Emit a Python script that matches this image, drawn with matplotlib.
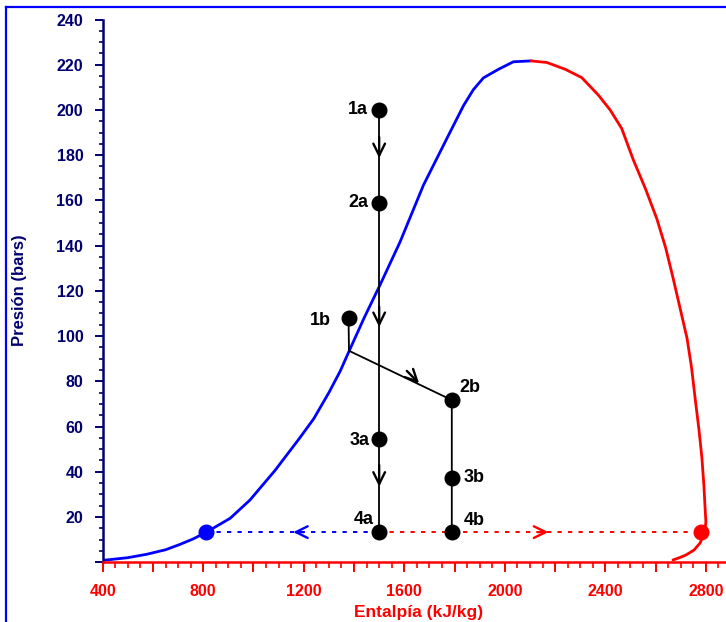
import matplotlib
matplotlib.use("Agg")
import matplotlib.pyplot as plt
from matplotlib.lines import Line2D
from matplotlib.ticker import MultipleLocator, FuncFormatter

plt.rcParams['font.family'] = ['Liberation Sans', 'DejaVu Sans']
plt.rcParams['font.weight'] = 'bold'

# curva de liquido saturado (azul) y vapor saturado (rojo)
h_liq = [400, 500, 575, 650, 708, 760, 811, 907, 986, 1085, 1183, 1240, 1300, 1345, 1381, 1440,
         1503, 1583, 1676, 1769, 1836, 1875, 1915, 1975, 2034, 2104]
p_liq = [0.8, 2.0, 3.5, 5.5, 7.9, 10.3, 13.2, 19.4, 27.5, 40.5, 54.8, 63.5, 75.0, 84.5, 93.5, 108.0,
         122.5, 141.6, 166.7, 187.3, 202.0, 209.0, 214.2, 218.0, 221.3, 221.7]
h_vap = [2104, 2167, 2240, 2306, 2372, 2419, 2465, 2511, 2560, 2605, 2640, 2670, 2700, 2725, 2743,
         2757, 2772, 2784, 2792, 2797, 2800, 2796, 2790, 2777, 2753, 2721, 2695, 2669]
p_vap = [221.7, 221.0, 218.0, 214.3, 206.6, 200.0, 191.8, 178.0, 165.0, 151.8, 139.0, 125.4, 111.0,
         99.0, 86.0, 72.6, 59.0, 46.3, 34.0, 23.5, 17.8, 14.5, 12.0, 8.5, 5.4, 3.2, 2.0, 1.0]

# puntos del proceso
nombres = ["1a", "2a", "3a", "4a", "1b", "2b", "3b", "4b"]
h_pts = [1500, 1500, 1500, 1500, 1378, 1789, 1789, 1789]
p_pts = [200, 159, 54.5, 13.3, 108, 71.7, 37.4, 13.3]
h_quiebre = 1380
p_quiebre = 93.5
h_f = 812
h_g = 2782
p_baja = 13.3

fig = plt.figure(figsize=(7.26, 6.22), dpi=100)
ax = fig.add_axes([102.7/726, 1 - 562.2/622, 623.3/726, 542.7/622])

azul = '#0000ff'
rojo = '#ff0000'
navy = '#000070'

ax.plot(h_liq, p_liq, color=azul, lw=2.0, solid_joinstyle='round', solid_capstyle='round')
ax.plot(h_vap, p_vap, color=rojo, lw=2.0, solid_joinstyle='round', solid_capstyle='round')

# lineas punteadas a baja presion
ax.plot([h_f, h_pts[3]], [p_baja, p_baja], color=azul, lw=1.4, ls=(0, (2.2, 3.2)))
ax.plot([h_pts[3], h_g], [p_baja, p_baja], color=rojo, lw=1.4, ls=(0, (2.2, 3.2)))

# trayectoria a
ax.plot([h_pts[0], h_pts[3]], [p_pts[0], p_pts[3]], color='black', lw=1.3)
# trayectoria b
ax.plot([h_pts[4], h_quiebre, h_pts[5], h_pts[7]], [p_pts[4], p_quiebre, p_pts[5], p_pts[7]],
        color='black', lw=1.3)

ax.plot(h_pts, p_pts, 'o', color='black', ms=10.5, zorder=5)
ax.plot([h_f], [p_baja], 'o', color=azul, ms=10.5, zorder=5)
ax.plot([h_g], [p_baja], 'o', color=rojo, ms=10.5, zorder=5)

def flecha(x0, y0, x1, y1, c):
    ax.annotate('', xy=(x1, y1), xytext=(x0, y0),
                arrowprops=dict(arrowstyle='->,head_length=0.85,head_width=0.42', color=c, lw=1.7,
                                shrinkA=0, shrinkB=0), zorder=6)

flecha(1500, 188, 1500, 178.7, 'black')
flecha(1500, 113, 1500, 104, 'black')
flecha(1500, 43, 1500, 33.4, 'black')
flecha(1610, 84.6, 1659, 79.1, 'black')
flecha(1200, p_baja, 1158, p_baja, azul)
flecha(2130, p_baja, 2173, p_baja, rojo)

offs = {"1a": (-11, 0, 'right'), "2a": (-11, 0, 'right'), "3a": (-10, -2, 'right'),
        "4a": (-5, 13, 'right'), "1b": (-18, -3, 'right'), "2b": (8, 13, 'left'),
        "3b": (12, 0, 'left'), "4b": (12, 12, 'left')}
for n, h, p in zip(nombres, h_pts, p_pts):
    dx, dy, ha = offs[n]
    ax.annotate(n, (h, p), xytext=(dx, dy), textcoords='offset pixels',
                ha=ha, va='center', fontsize=13, fontweight='bold', color='black')

ax.set_xlim(400, 2880)
ax.set_ylim(0, 240)
ax.spines['top'].set_visible(False)
ax.spines['right'].set_visible(False)
ax.spines['left'].set_color(navy)
ax.spines['left'].set_linewidth(1.8)
ax.spines['bottom'].set_color(rojo)
ax.spines['bottom'].set_linewidth(1.8)

ax.xaxis.set_major_locator(MultipleLocator(200))
ax.xaxis.set_minor_locator(MultipleLocator(50))
ax.xaxis.set_major_formatter(FuncFormatter(lambda v, p: '%d' % v if v % 400 == 0 else ''))
ax.yaxis.set_major_locator(MultipleLocator(20))
ax.yaxis.set_minor_locator(MultipleLocator(5))
ax.yaxis.set_major_formatter(FuncFormatter(lambda v, p: '%d' % v if v > 0 else ''))

ax.tick_params(axis='x', which='major', direction='out', length=7.5, width=1.4, color=rojo,
               labelcolor=rojo, labelsize=11.5, pad=8.5)
ax.tick_params(axis='x', which='minor', direction='out', length=4, width=1.2, color=rojo)
ax.tick_params(axis='y', which='major', direction='out', length=5.5, width=1.4, color=navy,
               labelcolor=navy, labelsize=11.5, pad=8.5)
ax.tick_params(axis='y', which='minor', direction='out', length=3, width=1.2, color=navy)
for t in ax.get_xticklabels() + ax.get_yticklabels():
    t.set_fontweight('bold')

ax.set_xlabel('Entalpía (kJ/kg)', color=rojo, fontsize=12.5, fontweight='bold')
ax.set_ylabel('Presión (bars)', color=navy, fontsize=12, fontweight='bold')
ax.xaxis.set_label_coords(0.506, -0.0918)
ax.yaxis.set_label_coords(-0.133, 0.5016)
ax.xaxis.label.set_va('center')
ax.yaxis.label.set_va('center')

# marco azul de la figura
fig.add_artist(Line2D([6/726, 1.0], [1 - 7/622, 1 - 7/622], color=azul, lw=1.6, transform=fig.transFigure))
fig.add_artist(Line2D([6/726, 6/726], [0, 1 - 7/622], color=azul, lw=1.6, transform=fig.transFigure))

fig.savefig('out.png', dpi=100)
